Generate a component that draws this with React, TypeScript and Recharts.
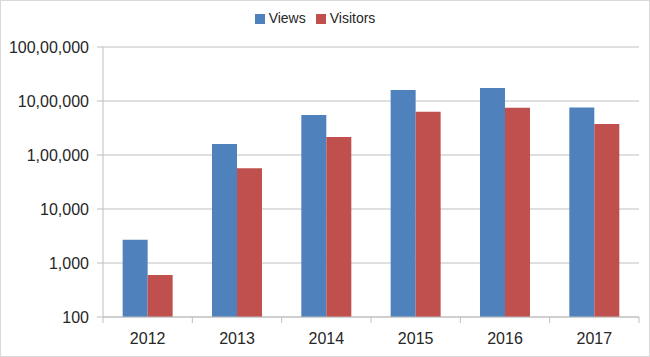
import { BarChart, Bar, XAxis, YAxis, CartesianGrid, Legend } from 'recharts'

const years = ['2012', '2013', '2014', '2015', '2016', '2017']
const views = [2700, 160000, 550000, 1600000, 1750000, 760000]
const visitors = [600, 57000, 215000, 630000, 750000, 375000]
const yTicks = [100, 1000, 10000, 100000, 1000000, 10000000]

const chartData = years.map((year, i) => ({
  year,
  views: views[i],
  visitors: visitors[i]
}))

// Indian digit grouping: 1,00,000 / 10,00,000 / 100,00,000
function indian(n: number) {
  const s = String(Math.round(n))
  if (s.length <= 3) return s
  const last3 = s.slice(-3)
  let rest = s.slice(0, -3)
  const parts: string[] = []
  while (rest.length > 2 && parts.length < 1) {
    parts.unshift(rest.slice(-2))
    rest = rest.slice(0, -2)
  }
  parts.unshift(rest)
  return parts.join(',') + ',' + last3
}

const GRID = '#bfbfbf'
const TEXT = '#262626'
const FONT = '"Liberation Sans", Arial, sans-serif'

function XTick(props: any) {
  const { x, y, payload, index, visibleTicksCount } = props
  const off = payload.offset || 0
  return (
    <g>
      <line x1={x - off} x2={x - off} y1={y - 8} y2={y - 2} stroke={GRID} />
      {index === visibleTicksCount - 1 && (
        <line x1={x + off} x2={x + off} y1={y - 8} y2={y - 2} stroke={GRID} />
      )}
      <text x={x} y={y + 19} textAnchor="middle" fill={TEXT} fontSize={16} fontFamily={FONT}>
        {payload.value}
      </text>
    </g>
  )
}

export default function App() {
  return (
    <div
      style={{
        position: 'absolute',
        left: 0,
        top: 0,
        width: 650,
        height: 357,
        border: '1px solid #d9d9d9',
        boxSizing: 'border-box',
        background: '#fff'
      }}
    >
      <BarChart
        width={648}
        height={355}
        data={chartData}
        margin={{ top: 30, right: 10, left: 0, bottom: 8 }}
        barCategoryGap="22%"
        barGap={0}
      >
        <Legend
          verticalAlign="top"
          align="center"
          iconType="square"
          iconSize={10}
          wrapperStyle={{ top: 9, fontFamily: FONT, fontSize: 14 }}
          formatter={(v: string) => <span style={{ color: TEXT }}>{v}</span>}
        />
        <CartesianGrid vertical={false} stroke={GRID} />
        <XAxis
          dataKey="year"
          stroke={GRID}
          tickLine={false}
          tick={<XTick />}
          height={31}
        />
        <YAxis
          scale="log"
          domain={[100, 10000000]}
          ticks={yTicks}
          interval={0}
          allowDataOverflow
          stroke={GRID}
          tickSize={6}
          tickMargin={8}
          tickFormatter={indian}
          tick={{ fill: TEXT, fontSize: 16, fontFamily: FONT }}
          width={102}
        />
        <Bar dataKey="views" name="Views" fill="#4f81bd" isAnimationActive={false} />
        <Bar dataKey="visitors" name="Visitors" fill="#c0504d" isAnimationActive={false} />
      </BarChart>
    </div>
  )
}
